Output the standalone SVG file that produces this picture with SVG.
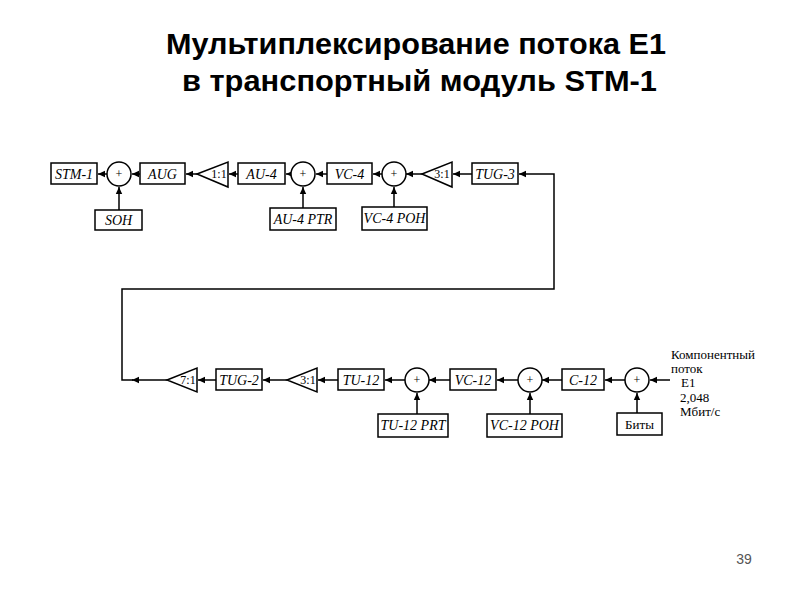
<svg xmlns="http://www.w3.org/2000/svg" width="800" height="600" viewBox="0 0 800 600">
<style>
.title{font-family:"Liberation Sans",Arial,sans-serif;font-weight:bold;font-size:30px;fill:#000}
.box{fill:#fff;stroke:#000;stroke-width:1.5}
.lbl{font-family:"Liberation Serif","Times New Roman",serif;font-style:italic;font-size:14px;fill:#000;text-anchor:middle}
.up{font-family:"Liberation Serif","Times New Roman",serif;font-size:13px;fill:#000}
.plus{font-family:"Liberation Serif",serif;font-size:12px;fill:#000;text-anchor:middle}
.ratio{font-family:"Liberation Serif",serif;font-size:12px;fill:#000;text-anchor:middle}
.ln{fill:none;stroke:#000;stroke-width:1.5}
</style>
<defs>
<marker id="ah" markerWidth="8" markerHeight="8" refX="7" refY="4" orient="auto" markerUnits="userSpaceOnUse">
<path d="M0,0.8 L7,4 L0,7.2 Z" fill="#000"/>
</marker>
</defs>
<rect width="800" height="600" fill="#fff"/>
<text class="title" x="166" y="54" textLength="500" lengthAdjust="spacingAndGlyphs">Мультиплексирование потока E1</text>
<text class="title" x="182" y="91" textLength="475" lengthAdjust="spacingAndGlyphs">в транспортный модуль STM-1</text>
<text x="744" y="564" font-family="Liberation Sans,Arial,sans-serif" font-size="14" fill="#555" text-anchor="middle">39</text>

<g id="connectors">
<line class="ln" x1="107" y1="174" x2="98" y2="174" marker-end="url(#ah)"/>
<line class="ln" x1="140" y1="174" x2="132" y2="174" marker-end="url(#ah)"/>
<line class="ln" x1="197" y1="174" x2="186" y2="174" marker-end="url(#ah)"/>
<line class="ln" x1="238" y1="174" x2="229" y2="174" marker-end="url(#ah)"/>
<line class="ln" x1="292" y1="174" x2="286" y2="174" marker-end="url(#ah)"/>
<line class="ln" x1="327" y1="174" x2="316" y2="174" marker-end="url(#ah)"/>
<line class="ln" x1="383" y1="174" x2="373" y2="174" marker-end="url(#ah)"/>
<line class="ln" x1="422" y1="174" x2="406" y2="174" marker-end="url(#ah)"/>
<line class="ln" x1="472" y1="174" x2="453" y2="174" marker-end="url(#ah)"/>
<line class="ln" x1="119" y1="210" x2="119" y2="187" marker-end="url(#ah)"/>
<line class="ln" x1="303" y1="208" x2="303" y2="187" marker-end="url(#ah)"/>
<line class="ln" x1="394" y1="207" x2="394" y2="187" marker-end="url(#ah)"/>
<line class="ln" x1="167" y1="380" x2="132" y2="380" marker-end="url(#ah)"/>
<polyline class="ln" points="133,380 122,380 122,289 554,289 554,174 519,174" marker-end="url(#ah)"/>
<line class="ln" x1="216" y1="380" x2="198" y2="380" marker-end="url(#ah)"/>
<line class="ln" x1="287" y1="380" x2="263" y2="380" marker-end="url(#ah)"/>
<line class="ln" x1="338" y1="380" x2="318" y2="380" marker-end="url(#ah)"/>
<line class="ln" x1="405" y1="380" x2="385" y2="380" marker-end="url(#ah)"/>
<line class="ln" x1="450" y1="380" x2="429" y2="380" marker-end="url(#ah)"/>
<line class="ln" x1="518" y1="380" x2="497" y2="380" marker-end="url(#ah)"/>
<line class="ln" x1="562" y1="380" x2="542" y2="380" marker-end="url(#ah)"/>
<line class="ln" x1="625" y1="380" x2="605" y2="380" marker-end="url(#ah)"/>
<line class="ln" x1="670" y1="380" x2="650" y2="380" marker-end="url(#ah)"/>
<line class="ln" x1="417" y1="414" x2="417" y2="393" marker-end="url(#ah)"/>
<line class="ln" x1="530" y1="414" x2="530" y2="393" marker-end="url(#ah)"/>
<line class="ln" x1="637" y1="413" x2="637" y2="393" marker-end="url(#ah)"/>
</g>

<g id="stm1"><rect class="box" x="51" y="163" width="46" height="21"/><text class="lbl" x="74" y="179">STM-1</text></g>
<g id="sum1"><circle class="box" cx="119" cy="174" r="12"/><text class="plus" x="119" y="178">+</text></g>
<g id="aug"><rect class="box" x="140" y="163" width="45" height="21"/><text class="lbl" x="162.5" y="179">AUG</text></g>
<g id="tri11"><polygon class="box" points="197,174 228,162 228,187"/><text class="ratio" x="219" y="178">1:1</text></g>
<g id="au4"><rect class="box" x="238" y="163" width="47" height="21"/><text class="lbl" x="261.5" y="179">AU-4</text></g>
<g id="sum2"><circle class="box" cx="303" cy="174" r="12"/><text class="plus" x="303" y="178">+</text></g>
<g id="vc4"><rect class="box" x="327" y="163" width="45" height="21"/><text class="lbl" x="349.5" y="179">VC-4</text></g>
<g id="sum3"><circle class="box" cx="394" cy="174" r="12"/><text class="plus" x="394" y="178">+</text></g>
<g id="tri31a"><polygon class="box" points="422,174 452,162 452,187"/><text class="ratio" x="442" y="178">3:1</text></g>
<g id="tug3"><rect class="box" x="472" y="163" width="46" height="21"/><text class="lbl" x="495" y="179">TUG-3</text></g>
<g id="soh"><rect class="box" x="95" y="210" width="47" height="20"/><text class="lbl" x="118.5" y="225">SOH</text></g>
<g id="au4ptr"><rect class="box" x="270" y="208" width="66" height="22"/><text class="lbl" x="303" y="224">AU-4 PTR</text></g>
<g id="vc4poh"><rect class="box" x="362" y="207" width="65" height="23"/><text class="lbl" x="394.5" y="223">VC-4 POH</text></g>

<g id="tri71"><polygon class="box" points="167,380 197,368 197,392"/><text class="ratio" x="188" y="384">7:1</text></g>
<g id="tug2"><rect class="box" x="216" y="369" width="46" height="21"/><text class="lbl" x="239" y="385">TUG-2</text></g>
<g id="tri31b"><polygon class="box" points="287,380 317,368 317,392"/><text class="ratio" x="308" y="384">3:1</text></g>
<g id="tu12"><rect class="box" x="338" y="369" width="46" height="21"/><text class="lbl" x="361" y="385">TU-12</text></g>
<g id="sum4"><circle class="box" cx="417" cy="380" r="12"/><text class="plus" x="417" y="384">+</text></g>
<g id="vc12"><rect class="box" x="450" y="369" width="46" height="21"/><text class="lbl" x="473" y="385">VC-12</text></g>
<g id="sum5"><circle class="box" cx="530" cy="380" r="12"/><text class="plus" x="530" y="384">+</text></g>
<g id="c12"><rect class="box" x="562" y="369" width="42" height="21"/><text class="lbl" x="583" y="385">C-12</text></g>
<g id="sum6"><circle class="box" cx="637" cy="380" r="12"/><text class="plus" x="637" y="384">+</text></g>
<g id="tu12prt"><rect class="box" x="378" y="414" width="70" height="23"/><text class="lbl" x="413" y="430">TU-12 PRT</text></g>
<g id="vc12poh"><rect class="box" x="487" y="414" width="75" height="23"/><text class="lbl" x="524.5" y="430">VC-12 POH</text></g>
<g id="bity"><rect class="box" x="617" y="413" width="45" height="22"/><text class="up" x="639.5" y="429" text-anchor="middle">Биты</text></g>
<g id="input">
<text class="up" x="671" y="359">Компонентный</text>
<text class="up" x="671" y="373">поток</text>
<text class="up" x="681" y="387">E1</text>
<text class="up" x="680" y="402">2,048</text>
<text class="up" x="680" y="416">Мбит/с</text>
</g>
</svg>
